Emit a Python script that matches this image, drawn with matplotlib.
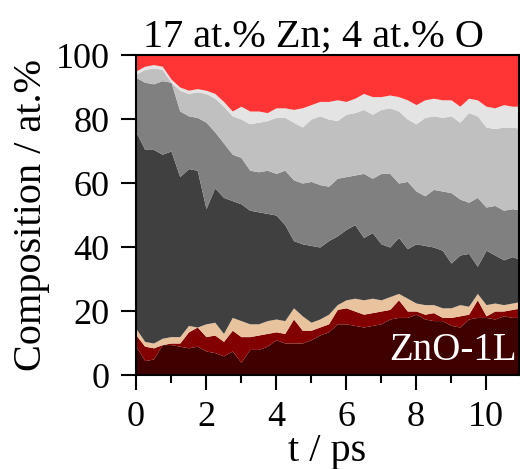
import matplotlib
matplotlib.use("Agg")
import matplotlib.pyplot as plt
import numpy as np
from matplotlib.ticker import MultipleLocator

SERIF = "Liberation Serif"
plt.rcParams["font.family"] = [SERIF, "DejaVu Serif"]

# time axis (ps)
t = np.arange(0, 11.01, 0.25)

# cumulative composition (at.%), bottom to top
top_brown = [9, 4.5, 5, 9.5, 9.5, 9, 8.5, 9, 7.5, 7, 6, 7.5, 4, 8, 8, 9, 11, 10, 10, 10,
             11, 12.5, 13.5, 16, 16, 15.5, 15, 15.5, 16, 17.5, 18, 18, 19, 17.5, 17, 17,
             15.5, 15, 17.5, 18, 18, 17.5, 18.5, 18, 18]
top_darkred = [12.5, 9, 8.5, 9.5, 10, 10, 13.5, 15, 12, 12.5, 10.5, 14, 12, 12, 12.5, 13,
               13.5, 13, 17.5, 14, 14, 15, 16, 20.5, 21, 20, 19, 19.5, 20, 20.5, 23.5, 20,
               20, 19, 19.5, 18, 18, 18.5, 19, 23.5, 18.5, 20, 20, 20.5, 21]
top_tan = [14.5, 10.5, 10, 11.5, 12, 12, 15.5, 15, 16, 16.5, 13, 18, 17, 16, 16, 17, 17.5,
           17, 21, 18.5, 16.5, 17.5, 19, 22, 23.5, 24, 23.5, 24, 23.5, 24.5, 25.5, 24,
           22.5, 22, 22, 21, 21, 22, 21.5, 25.5, 22, 22.5, 22, 22.5, 23]
top_dark = [76, 70.5, 70.5, 69, 70, 62, 64.5, 64, 52, 58.5, 55.5, 54.5, 53.5, 51.5, 51,
            50.5, 50, 47, 42, 41, 40.5, 40, 42, 43.5, 45.5, 47, 43, 44.5, 41, 40, 43,
            39.5, 41, 40.5, 40, 39, 35, 37.5, 38, 34, 39, 37.5, 36, 37, 36]
top_mid = [93, 91.5, 91, 92, 91.5, 82.5, 81, 80.5, 79, 76, 72.5, 69, 68, 64, 63.5, 64, 63,
           64, 61, 60, 60.5, 59.5, 59, 61.5, 62, 62.5, 63, 61.5, 63, 63, 60, 60.5, 57.5,
           56, 58, 57.5, 57, 55, 54, 55.5, 52.5, 53, 51.5, 52, 51.5]
top_light = [94, 95.5, 96, 95.5, 91.5, 89, 88, 88.5, 88, 86.5, 84, 81, 80, 78.5, 79, 79.5,
             80.5, 80.5, 79, 77.5, 80, 81, 80, 79.5, 81.5, 82, 83, 81.5, 83, 83.5, 82.5,
             80, 78.5, 80.5, 81, 80.5, 81, 79, 82, 81, 77.5, 77, 77.5, 77.5, 77]
top_pale = [95, 96.5, 97, 96.5, 92.5, 90, 89, 89.5, 89, 88, 85.5, 82.5, 84, 82.5, 82.5, 82,
            83.5, 83.5, 83, 83.5, 84.5, 85.5, 85.5, 86, 85.5, 86.5, 88, 87, 87, 87.5, 87,
            86, 84.5, 86, 86.5, 86, 86, 84, 86.5, 86, 84, 83.5, 84.5, 84, 84]

layers = [top_brown, top_darkred, top_tan, top_dark, top_mid, top_light, top_pale]
colors = ["#3f0000", "#820000", "#e9c29e", "#404040", "#808080", "#c0c0c0", "#e4e4e4", "#ff3535"]

fig = plt.figure(figsize=(5.2, 4.69), dpi=100)
ax = fig.add_axes([0.2615, 0.2004, 0.7365, 0.6823])

lower = np.zeros_like(t)
for upper, c in zip(layers + [np.full_like(t, 100.0)], colors):
    upper = np.asarray(upper, dtype=float)
    ax.fill_between(t, lower, upper, color=c, lw=0)
    lower = upper

ax.set_xlim(0, 10.94)
ax.set_ylim(0, 100)
ax.xaxis.set_major_locator(MultipleLocator(2))
ax.xaxis.set_minor_locator(MultipleLocator(1))
ax.yaxis.set_major_locator(MultipleLocator(20))
ax.tick_params(axis="both", which="major", direction="out", length=11, width=1.5,
               labelsize=26)
ax.tick_params(axis="x", which="major", pad=8)
ax.tick_params(axis="y", which="major", pad=8)
ax.tick_params(axis="x", which="minor", direction="out", length=6, width=1.5)
for lab in ax.get_xticklabels() + ax.get_yticklabels():
    lab.set_family(SERIF)
for s in ax.spines.values():
    s.set_linewidth(1.5)

ax.set_xlabel("t / ps", fontsize=29, family=SERIF, labelpad=-1)
ax.set_ylabel("Composition / at.%", fontsize=29, family=SERIF, labelpad=4)
ax.set_title("17 at.% Zn; 4 at.% O", fontsize=29, family=SERIF, x=0.464, pad=4)
ax.text(0.995, 0.02, "ZnO-1L", transform=ax.transAxes, ha="right", va="bottom",
        color="white", fontsize=28, family=SERIF)

fig.savefig("out.png", dpi=100)
